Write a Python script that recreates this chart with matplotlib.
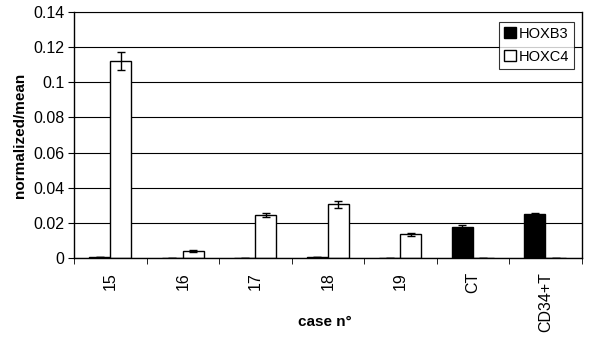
import matplotlib
matplotlib.use("Agg")
import matplotlib.pyplot as plt
import numpy as np

plt.rcParams['font.family'] = ['Liberation Sans', 'DejaVu Sans']

categories = ["15", "16", "17", "18", "19", "CT", "CD34+T"]
hoxb3 = [0.0005, 0.0002, 0.0002, 0.0005, 0.0002, 0.0175, 0.0248]
hoxb3_err = [0.0, 0.0, 0.0, 0.0, 0.0, 0.001, 0.001]
hoxc4 = [0.112, 0.004, 0.0245, 0.0305, 0.0135, 0.0002, 0.0002]
hoxc4_err = [0.0052, 0.0003, 0.0013, 0.0018, 0.0007, 0.0, 0.0]
yticks = [0, 0.02, 0.04, 0.06, 0.08, 0.1, 0.12, 0.14]
ytick_labels = ["0", "0.02", "0.04", "0.06", "0.08", "0.1", "0.12", "0.14"]

fig = plt.figure(figsize=(5.89, 3.37), dpi=100)
ax = fig.add_axes([0.1256, 0.2344, 0.862, 0.73])

x = np.arange(len(categories))
w = 0.29
ax.set_axisbelow(True)
ax.yaxis.grid(True, color='black', linewidth=0.8)
ax.bar(x - w/2, hoxb3, w, color='black', edgecolor='black', linewidth=1,
       yerr=hoxb3_err, capsize=3, error_kw=dict(elinewidth=1, capthick=1), label='HOXB3')
ax.bar(x + w/2, hoxc4, w, color='white', edgecolor='black', linewidth=1,
       yerr=hoxc4_err, capsize=3, error_kw=dict(elinewidth=1, capthick=1), label='HOXC4')

ax.set_xlim(-0.5, len(categories) - 0.5)
ax.set_ylim(0, 0.14)
ax.set_yticks(yticks)
ax.set_yticklabels(ytick_labels, fontsize=11.5)
ax.set_xticks(x)
ax.set_xticklabels(categories, rotation=90, fontsize=11.5)
ax.tick_params(axis='x', length=0, pad=10)
ax.set_xticks(np.arange(len(categories) + 1) - 0.5, minor=True)
ax.tick_params(axis='x', which='minor', length=4, direction='out')
ax.tick_params(axis='y', length=4, direction='out', pad=3)
for s in ax.spines.values():
    s.set_linewidth(1)
ax.spines['top'].set_linewidth(0.8)

ax.set_ylabel("normalized/mean", fontsize=11, fontweight='bold', labelpad=4)
ax.set_xlabel("case n°", fontsize=11, fontweight='bold')
ax.xaxis.set_label_coords(0.494, -0.26)
ax.xaxis.label.set_verticalalignment('center')

leg = ax.legend(loc='upper right', bbox_to_anchor=(0.985, 0.96), fontsize=10.5,
                frameon=True, fancybox=False, edgecolor='black', handlelength=0.8,
                handleheight=0.8, handletextpad=0.2, borderpad=0.35, labelspacing=0.6,
                borderaxespad=0)
leg.get_frame().set_linewidth(0.8)

fig.savefig("out.png", dpi=100)
